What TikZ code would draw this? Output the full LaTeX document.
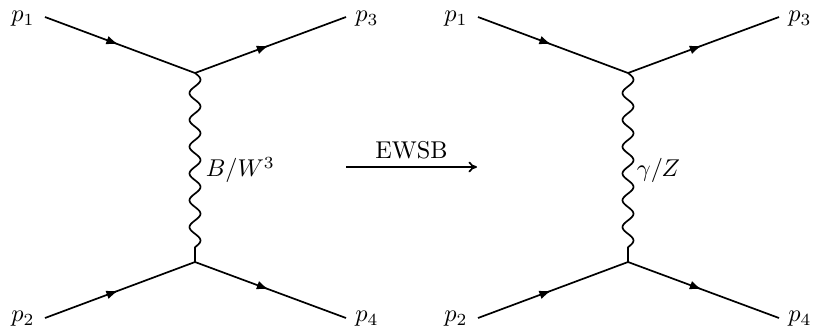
\documentclass[tikz,border=0pt]{standalone}
\usetikzlibrary{decorations.markings,arrows.meta}
\begin{document}
\begin{tikzpicture}[x=0.4115pt,y=-0.4115pt,
  line width=0.7pt,
  fermion/.style={postaction={decorate},decoration={markings,mark=at position 0.49 with {\arrow{Latex[length=5pt,width=3.6pt]}}}},
  lbl/.style={inner sep=0pt,anchor=center}]
\useasboundingbox (0,0) rectangle (813,331);
\foreach \n/\x in {l/195,r/628}{
  \coordinate (\n t) at (\x,73);
  \coordinate (\n b) at (\x,262);
  \coordinate (\n a) at (\x-150,17);
  \coordinate (\n c) at (\x+151,17);
  \coordinate (\n d) at (\x-150,318);
  \coordinate (\n e) at (\x+151,318);
  \node[lbl] (\n p1) at (\x-172,19) {$p_1$};
  \node[lbl] (\n p3) at (\x+172,19) {$p_3$};
  \node[lbl] (\n p2) at (\x-172,319) {$p_2$};
  \node[lbl] (\n p4) at (\x+172,319) {$p_4$};
  \draw[fermion] (\n a) -- (\n t);
  \draw[fermion] (\n t) -- (\n c);
  \draw[fermion] (\n d) -- (\n b);
  \draw[fermion] (\n b) -- (\n e);
  \draw[shift={(\n t)},line join=round] plot[variable=\t,domain=0:6.5,samples=131] ({5.5*sin(360*\t)},{26.8*\t}) -- (\n b);
}
\node[lbl,anchor=west] (lw) at (205,170) {$B/W^3$};
\node[lbl,anchor=west] (rw) at (636,170) {$\gamma/Z$};
\coordinate (as) at (346,167);
\coordinate (ae) at (477,167);
\draw[-{To[length=3.5pt,width=4.5pt]}] (as) -- node[above=3pt,inner sep=0pt] (ew) {EWSB} (ae);
\end{tikzpicture}
\end{document}
